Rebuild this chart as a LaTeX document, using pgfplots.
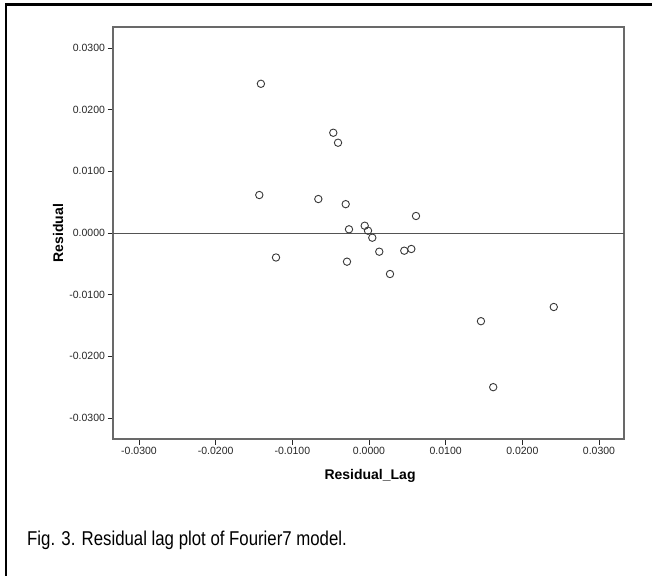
\documentclass[border=0pt]{standalone}
\usepackage{fontspec}
\setmainfont{Liberation Sans}
\newfontfamily\narrowfont{Liberation Sans}[FakeStretch=0.84]
\usepackage{pgfplots}
\pgfplotsset{compat=1.18}
\definecolor{axgray}{RGB}{105,105,105}
\definecolor{ptgray}{RGB}{55,55,55}
\begin{document}
\begin{tikzpicture}[x=1pt,y=1pt]
\path[use as bounding box] (0,0) rectangle (652,-575);
\draw[line width=2.3pt] (6,-576) -- (6,-4.5) -- (653,-4.5);
\begin{axis}[
  at={(113pt,-439pt)}, anchor=south west,
  scale only axis, width=511pt, height=412pt,
  xmin=-0.03339, xmax=0.03326, ymin=-0.03341, ymax=0.03341,
  axis line style={axgray, line width=1.1pt},
  xtick={-0.03,-0.02,-0.01,0,0.01,0.02,0.03},
  ytick={-0.03,-0.02,-0.01,0,0.01,0.02,0.03},
  xticklabels={-0.0300,-0.0200,-0.0100,0.0000,0.0100,0.0200,0.0300},
  yticklabels={-0.0300,-0.0200,-0.0100,0.0000,0.0100,0.0200,0.0300},
  scaled ticks=false,
  xtick pos=bottom, ytick pos=left,
  tick align=outside, major tick length=5.5pt,
  tick style={black!85, line width=0.9pt},
  tick label style={font=\fontsize{10.5}{12}\selectfont, text=black!85},
  xticklabel style={yshift=1pt},
  yticklabel style={xshift=1pt},
  xlabel={Residual\_Lag}, ylabel={Residual},
  label style={font=\fontsize{14}{16}\selectfont\bfseries},
  xlabel style={at={(axis description cs:0.503,-0.0898)}, anchor=center},
  ylabel style={at={(axis description cs:-0.1076,0.5)}, anchor=center},
  clip=false,
]
\addplot[axgray!80!black, line width=0.9pt, forget plot] coordinates {(-0.03339,0) (0.03326,0)};
\addplot[only marks, mark=o, mark size=3.7pt, mark options={ptgray, line width=0.9pt}] coordinates {
(-0.0141,0.0242)
(0.0241,-0.0120)
(-0.01213,-0.00397)
(-0.00404,0.01464)
(0.0146,-0.0143)
(-0.01431,0.00616)
(0.00613,0.00276)
(0.00274,-0.00665)
(-0.00661,0.00551)
(0.00552,-0.00259)
(-0.00261,0.0006)
(-0.00466,0.01626)
(-0.00304,0.00468)
(-0.00056,0.00118)
(-0.00013,0.00037)
(0.00043,-0.00076)
(0.00134,-0.00303)
(0.0046,-0.00287)
(-0.00287,-0.00465)
(0.0162,-0.0250)
};
\end{axis}
\node[anchor=base west, inner sep=0pt, font=\narrowfont\fontsize{20}{24}\selectfont] at (27,-545) {Fig. 3. Residual lag plot of Fourier7 model.};
\end{tikzpicture}
\end{document}
